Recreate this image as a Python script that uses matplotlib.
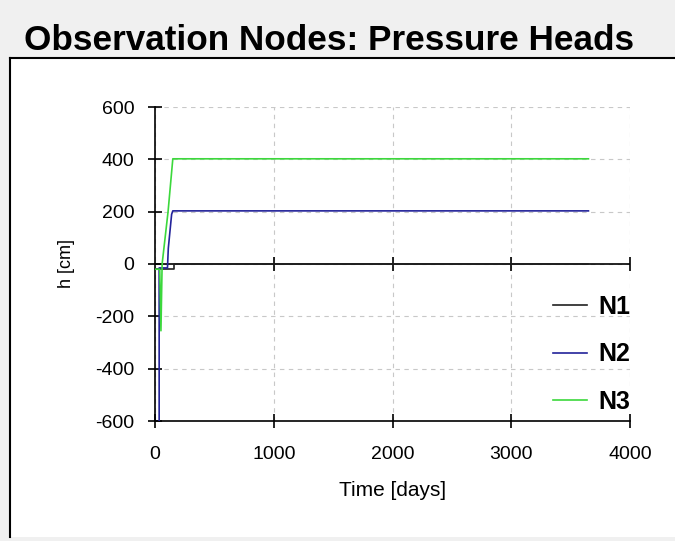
import matplotlib
matplotlib.use("Agg")
import matplotlib.pyplot as plt
from matplotlib.patches import Rectangle
from matplotlib.lines import Line2D

plt.rcParams['font.family'] = ['Liberation Sans', 'DejaVu Sans']
plt.rcParams['axes.unicode_minus'] = False

# Data (time in days, pressure head in cm)
t_n1 = [0, 160, 160, 3650]
h_n1 = [-20, -20, 0, 0]
t_n2 = [0, 35, 35, 105, 112, 125, 140, 150, 3650]
h_n2 = [-700, -700, -15, -15, 60, 120, 190, 203, 203]
t_n3 = [0, 40, 50, 60, 110, 150, 3650]
h_n3 = [-20, -20, -255, 0, 200, 402, 402]

series_names = ["N1", "N2", "N3"]
series_colors = ["#202020", "#23239a", "#3cd83c"]

x_ticks = [0, 1000, 2000, 3000, 4000]
y_ticks = [-600, -400, -200, 0, 200, 400, 600]

fig = plt.figure(figsize=(6.75, 5.41), dpi=100)
fig.patch.set_facecolor("#f0f0f0")

W, H = 675, 541
# white panel with black left/top border
fig.patches.append(Rectangle((10 / W, 1 - 537 / H), (W - 10) / W, (537 - 58) / H,
                             transform=fig.transFigure, facecolor="white",
                             edgecolor="none", zorder=-5))
fig.lines.append(Line2D([10 / W, 10 / W], [1 - 537 / H, 1 - 58 / H],
                        transform=fig.transFigure, color="black", lw=1.5, zorder=-4))
fig.lines.append(Line2D([10 / W, 1], [1 - 58 / H, 1 - 58 / H],
                        transform=fig.transFigure, color="black", lw=1.5, zorder=-4))

fig.text(24 / W, 1 - 41 / H, "Observation Nodes: Pressure Heads",
         fontsize=25.3, fontweight="bold", va="center", ha="left")

ax = fig.add_axes([155 / W, 1 - 421 / H, (630 - 155) / W, (421 - 107) / H])
ax.set_facecolor("none")
ax.set_zorder(2)

ax.set_xlim(0, 4000)
ax.set_ylim(-600, 600)
ax.set_xticks(x_ticks)
ax.set_yticks(y_ticks)
ax.grid(True, color="#c8c8c8", linestyle=(0, (4, 4)), lw=0.8)
ax.set_axisbelow(True)

for s in ["top", "right"]:
    ax.spines[s].set_visible(False)
for s in ["left", "bottom"]:
    ax.spines[s].set_linewidth(1.2)

ax.tick_params(direction="inout", length=10, width=1.2, labelsize=14)
ax.tick_params(axis="x", pad=13)
ax.tick_params(axis="y", pad=10)

# zero axis line with ticks
ax.axhline(0, color="black", lw=1.2, zorder=2)
ax.plot(x_ticks[1:], [0] * (len(x_ticks) - 1), linestyle="none", marker="|",
        markersize=10, markeredgewidth=1.2, color="black", zorder=2)

for t, h, c, n in zip([t_n1, t_n2, t_n3], [h_n1, h_n2, h_n3],
                      series_colors, series_names):
    ax.plot(t, h, color=c, lw=1.2, label=n, zorder=3)

ax.set_xlabel("Time [days]", fontsize=15, labelpad=13)
ax.set_ylabel("h [cm]", fontsize=13, labelpad=14)

leg = ax.legend(loc="lower right", frameon=False, prop={"size": 18, "weight": "bold"},
                handlelength=1.35, handletextpad=0.45, labelspacing=0.95,
                borderaxespad=0.0, borderpad=0.0, bbox_to_anchor=(1.0, 0.022))

fig.savefig("out.png", dpi=100, facecolor=fig.get_facecolor())
